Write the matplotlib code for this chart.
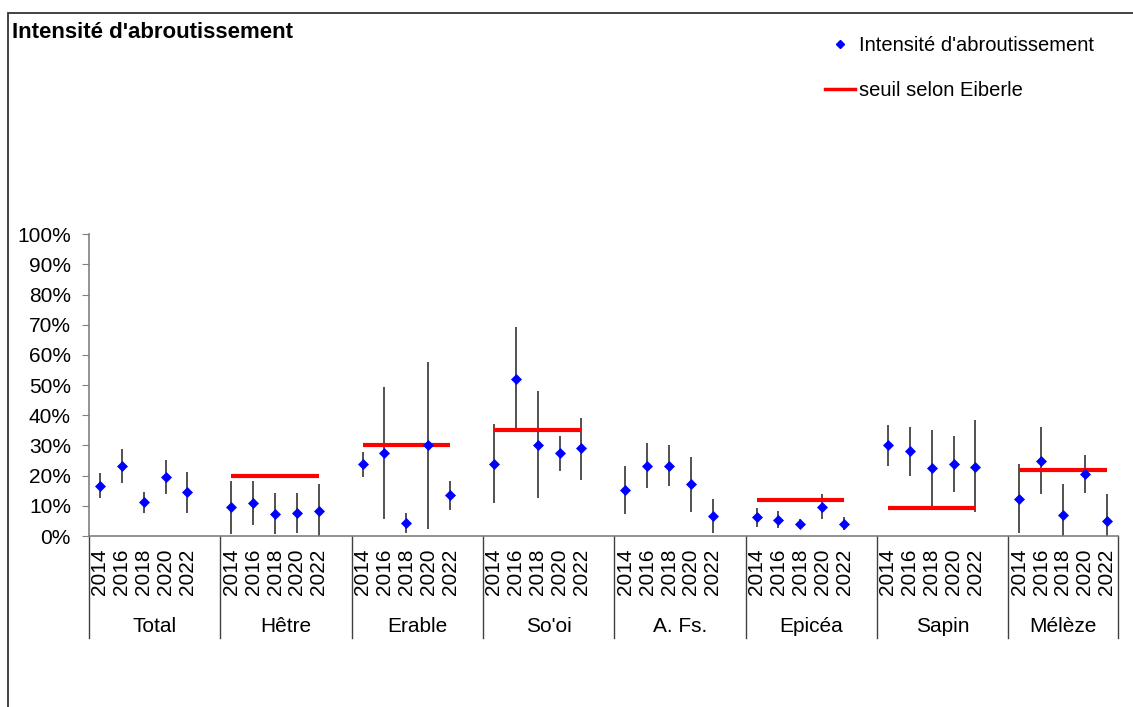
import numpy as np
import matplotlib
matplotlib.use("Agg")
import matplotlib.pyplot as plt
from matplotlib.patches import Rectangle
from matplotlib.lines import Line2D
from matplotlib.transforms import blended_transform_factory

plt.rcParams['font.family'] = ['Liberation Sans', 'DejaVu Sans']

# données (en %)
categories = ["Total", "Hêtre", "Erable", "So'oi", "A. Fs.", "Epicéa", "Sapin", "Mélèze"]
years = ["2014", "2016", "2018", "2020", "2022"]

intensite = [
    [16.7, 23.2, 11.2, 19.5, 14.5],
    [9.7, 10.8, 7.4, 7.6, 8.4],
    [23.8, 27.5, 4.2, 30.1, 13.5],
    [24.0, 52.1, 30.3, 27.5, 29.1],
    [15.1, 23.2, 23.2, 17.2, 6.6],
    [6.2, 5.4, 4.1, 9.7, 4.1],
    [30.0, 28.1, 22.4, 24.0, 23.0],
    [12.2, 25.0, 6.8, 20.5, 4.9],
]
borne_inf = [
    [12.5, 17.7, 7.7, 13.9, 7.7],
    [0.7, 3.5, 0.7, 1.1, 0.0],
    [19.7, 5.7, 0.9, 2.3, 8.6],
    [10.9, 35.2, 12.7, 21.7, 18.7],
    [7.4, 16.0, 16.7, 8.0, 0.9],
    [3.0, 2.8, 2.2, 5.5, 2.0],
    [23.3, 20.0, 9.5, 14.7, 8.0],
    [0.9, 13.9, 0.0, 14.2, 0.0],
]
borne_sup = [
    [20.8, 28.7, 14.6, 25.2, 21.1],
    [18.3, 18.3, 14.4, 14.2, 17.1],
    [27.8, 49.3, 7.5, 57.6, 18.1],
    [37.0, 69.3, 48.0, 33.2, 39.2],
    [23.1, 30.7, 30.0, 26.2, 12.4],
    [9.4, 8.2, 5.7, 13.9, 6.4],
    [36.7, 36.2, 35.2, 33.2, 38.3],
    [23.8, 36.0, 17.1, 26.8, 13.9],
]
# seuil selon Eiberle (None = pas de seuil)
seuil = [None, 20, 30, 35, None, 12, 9.2, 22]

n_slots = len(categories) * 6 - 1

fig = plt.figure(figsize=(11.33, 7.07), dpi=100)
ax = fig.add_axes([89 / 1133, 1 - 536 / 707, (1117.7 - 89) / 1133, (536 - 234.3) / 707])

xs, ys, lo, hi = [], [], [], []
for g, cat in enumerate(categories):
    x = g * 6 + np.arange(len(years)) + 0.5
    xs.extend(x)
    ys.extend(intensite[g])
    lo.extend(np.array(intensite[g]) - np.array(borne_inf[g]))
    hi.extend(np.array(borne_sup[g]) - np.array(intensite[g]))
    if seuil[g] is not None:
        ax.plot([x[0], x[-1]], [seuil[g], seuil[g]], color='#ff0000', lw=3, zorder=3,
                solid_capstyle='butt')

ax.errorbar(xs, ys, yerr=[lo, hi], fmt='none', ecolor='#222222', elinewidth=1.1, zorder=2)
ax.plot(xs, ys, 'D', color='#0000ff', ms=5, mec='#0000ff', mew=0.5, zorder=4)

ax.set_xlim(0, n_slots)
ax.set_ylim(0, 100)
ax.set_yticks(np.arange(0, 101, 10))
ax.set_yticklabels([f"{v}%" for v in range(0, 101, 10)], fontsize=15)
ax.tick_params(axis='y', length=5, color='#808080', pad=8)

ax.set_xticks(xs)
ax.set_xticklabels(years * len(categories), rotation=90, fontsize=15)
ax.tick_params(axis='x', length=0, pad=9)

for s in ['top', 'right']:
    ax.spines[s].set_visible(False)
ax.spines['left'].set_color('#808080')
ax.spines['bottom'].set_color('#808080')
ax.spines['left'].set_linewidth(1.2)
ax.spines['bottom'].set_linewidth(1.2)

# séparateurs et noms des groupes
trans = blended_transform_factory(ax.transData, ax.transAxes)
bords = [g * 6 for g in range(len(categories))] + [n_slots]
for b in bords:
    ax.plot([b, b], [0, -0.338], transform=trans, color='#404040', lw=1, clip_on=False)
for g, cat in enumerate(categories):
    milieu = (bords[g] + bords[g + 1]) / 2
    ax.text(milieu, -(626 - 536) / (536 - 234.3), cat, transform=trans,
            ha='center', va='center', fontsize=15)

# titre et légende
fig.text(12 / 1133, 1 - 32 / 707, "Intensité d'abroutissement", fontsize=16,
         fontweight='bold', va='center', ha='left')

handles = [Line2D([], [], ls='none', marker='D', color='#0000ff', ms=4),
           Line2D([], [], color='#ff0000', lw=2.5)]
fig.legend(handles, ["Intensité d'abroutissement", "seuil selon Eiberle"],
           loc='upper left', bbox_to_anchor=(825 / 1133, 1 - 36 / 707),
           frameon=False, fontsize=14.5, handlelength=1.5, handletextpad=0.2,
           labelspacing=1.3, borderpad=0, borderaxespad=0)

# cadre de la figure
fig.patches.append(Rectangle((8.3 / 1133, -0.1), 1.2, 1.1 - 13.3 / 707,
                             transform=fig.transFigure, fill=False,
                             edgecolor='#333333', lw=1.3))

fig.savefig("out.png", dpi=100)
